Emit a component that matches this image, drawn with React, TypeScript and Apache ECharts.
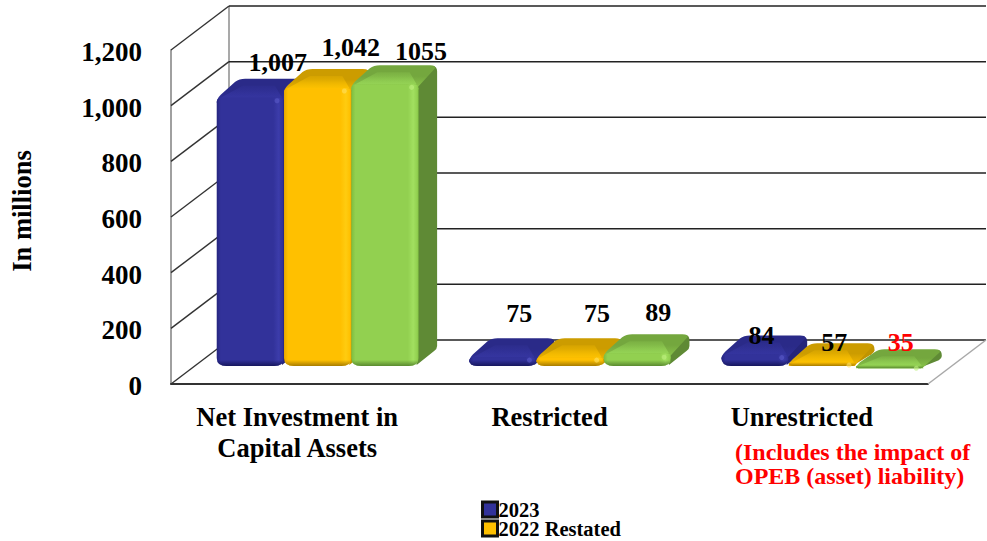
import React, { useEffect, useRef } from "react";
import * as echarts from "echarts";

const categories = ["Net Investment in\nCapital Assets", "Restricted", "Unrestricted"];
const seriesNames = ["2023", "2022 Restated", "2021"];
const values2023 = [1007, 75, 84];
const values2022 = [1042, 75, 57];
const values2021 = [1055, 89, 35];
const labels2023 = ["1,007", "75", "84"];
const labels2022 = ["1,042", "75", "57"];
const labels2021 = ["1055", "89", "35"];
const yTicks = [0, 200, 400, 600, 800, 1000, 1200];
const note = "(Includes the impact of\nOPEB (asset) liability)";
const yTitle = "In millions";

const FONT = '"Liberation Serif", "Times New Roman", serif';
const WALL_DX = 58;
const WALL_DY = 44;
const BAR_DX = 18.5;
const BAR_DY = 19;
const FLOOR_Y = 366;
const TOP_LIFT = 6;
const GROUP_SHIFT = 20.5;

const palette = [
  { base: "#32329A", edge: "#24247E", light: "#3C3CAA", top: "#2A2A88", topFront: "#32329A", facet: "#3636A2", side: "#25257A", bottom: "#17175E", spot: "#5A5AC8" },
  { base: "#FFC000", edge: "#E8A800", light: "#FFCC10", top: "#CC9C00", topFront: "#F8BA00", facet: "#FFC400", side: "#C09400", bottom: "#A87C00", spot: "#FFE060" },
  { base: "#92D050", edge: "#7CBC40", light: "#A2E060", top: "#74A73E", topFront: "#8CC84C", facet: "#98D858", side: "#5F8A35", bottom: "#5A8A30", spot: "#C0F080" },
];
const labelNudges = [
  [[27.5, -41.7], [16.5, -50], [6.5, -25.6]],
  [[33, -46], [27, -50], [12, -26]],
  [[36, -38.4], [21, -47], [11, -32]],
];

const hGrad = (stops: [number, string][]) => ({
  type: "linear", x: 0, y: 0, x2: 1, y2: 0,
  colorStops: stops.map(([offset, color]) => ({ offset, color })),
});
const vGrad = (stops: [number, string][]) => ({
  type: "linear", x: 0, y: 0, x2: 0, y2: 1,
  colorStops: stops.map(([offset, color]) => ({ offset, color })),
});

function barRenderer(seriesIndex: number) {
  return (params: any, api: any) => {
    const cat = api.value(0);
    const val = api.value(1);
    const pt = api.coord([cat, val]);
    const band = api.size([1, 0])[0];
    const w = band * 0.2667;
    const x0 = pt[0] + GROUP_SHIFT - w * 1.5 + w * seriesIndex;
    const x1 = x0 + w;
    const raw = pt[1] - TOP_LIFT;
    const fb = Math.max(FLOOR_Y, raw);
    const ft = Math.min(raw, fb - 3);
    const back = raw - BAR_DY;
    const h = fb - ft;
    const r = Math.min(8, h * 0.7);
    const c = palette[seriesIndex];

    const sideD = [
      `M${x1 - 3} ${ft + 3}`,
      `L${x1 + BAR_DX - 6} ${back + 1}`,
      `Q${x1 + BAR_DX} ${back} ${x1 + BAR_DX} ${back + 6}`,
      `L${x1 + BAR_DX} ${Math.max(back + 7, fb - 20)}`,
      `Q${x1 + BAR_DX} ${Math.max(back + 9, fb - 17)} ${x1 + BAR_DX - 3} ${Math.max(back + 11, fb - 15)}`,
      `L${x1 - 2} ${fb - 1}`,
      `Z`,
    ].join(" ");
    const topD = [
      `M${x0} ${ft + Math.min(5, h)}`,
      `Q${x0} ${ft + 1} ${x0 + 4} ${ft - 3}`,
      `L${x0 + BAR_DX} ${back + 3}`,
      `Q${x0 + BAR_DX + 4} ${back} ${x0 + BAR_DX + 10} ${back}`,
      `L${x1 + BAR_DX - 7} ${back}`,
      `Q${x1 + BAR_DX - 1} ${back} ${x1 + BAR_DX - 2} ${back + 3}`,
      `L${x1 - 1} ${ft + 3}`,
      `Q${x1} ${ft + 4} ${x1} ${ft + Math.min(5, h)}`,
      `Z`,
    ].join(" ");
    const facetD = [
      `M${x0 + 4} ${ft}`,
      `L${x0 + 26} ${back + 7}`,
      `L${x1 - 9} ${back + 7}`,
      `L${x1 - 2} ${ft}`,
      `Z`,
    ].join(" ");
    const frontD = [
      `M${x0} ${ft + Math.min(4, h / 2)}`,
      `Q${x0} ${ft} ${x0 + 5} ${ft}`,
      `L${x1 - 5} ${ft}`,
      `Q${x1} ${ft} ${x1} ${ft + Math.min(4, h / 2)}`,
      `L${x1} ${fb - r}`,
      `Q${x1} ${fb} ${x1 - r - 2} ${fb}`,
      `L${x0 + r + 2} ${fb}`,
      `Q${x0} ${fb} ${x0} ${fb - r}`,
      `Z`,
    ].join(" ");
    const shadeStart = Math.max(0, 1 - 6 / h);
    return {
      type: "group",
      children: [
        { type: "path", shape: { pathData: sideD }, style: { fill: c.side } },
        { type: "path", shape: { pathData: topD }, style: { fill: vGrad([[0, c.top], [0.45, c.top], [1, c.topFront]]) } },
        { type: "path", shape: { pathData: facetD }, style: { fill: vGrad([[0, c.facet + "30"], [1, c.facet + "D0"]]) } },
        {
          type: "path",
          shape: { pathData: frontD },
          style: { fill: hGrad([[0, c.edge], [0.06, c.base], [0.84, c.base], [0.92, c.light], [0.98, c.base], [1, c.edge]]) },
        },
        {
          type: "path",
          shape: { pathData: frontD },
          style: { fill: vGrad([[0, c.bottom + "00"], [shadeStart, c.bottom + "00"], [1, c.bottom]]) },
        },
        { type: "circle", shape: { cx: x1 - 7, cy: ft + 3, r: 2.5 }, style: { fill: c.spot, opacity: 0.6 } },
      ],
    };
  };
}

function wallRenderer(params: any, api: any) {
  const tick = api.value(0);
  const p = api.coord([0, tick]);
  const left = p[0] - api.size([1, 0])[0] / 2;
  const y = p[1];
  const rightEdge = params.coordSys.x + params.coordSys.width;
  const children: any[] = [
    { type: "line", shape: { x1: left, y1: y, x2: left + WALL_DX, y2: y - WALL_DY }, style: { stroke: "#333333", lineWidth: 1.4 } },
    { type: "line", shape: { x1: left + WALL_DX, y1: y - WALL_DY, x2: rightEdge + WALL_DX, y2: y - WALL_DY }, style: { stroke: "#222222", lineWidth: 1.5 } },
  ];
  if (tick === 0) {
    const top = api.coord([0, yTicks[yTicks.length - 1]])[1];
    children.push(
      { type: "line", shape: { x1: left + WALL_DX, y1: top - WALL_DY, x2: left + WALL_DX, y2: y - WALL_DY }, style: { stroke: "#8C8C8C", lineWidth: 1.5 } },
      { type: "line", shape: { x1: rightEdge, y1: y, x2: rightEdge + WALL_DX, y2: y - WALL_DY }, style: { stroke: "#A8A8A8", lineWidth: 1.5 } }
    );
  }
  return { type: "group", children };
}

function labelRenderer(params: any, api: any) {
  const cat = api.value(0);
  const val = api.value(1);
  const s = api.value(2);
  const pt = api.coord([cat, val]);
  const band = api.size([1, 0])[0];
  const w = band * 0.2667;
  const cx = pt[0] + GROUP_SHIFT - w * 1.5 + w * s + w / 2;
  const [dx, dy] = labelNudges[s][cat];
  const isRed = s === 2 && cat === 2;
  return {
    type: "text",
    style: {
      text: [labels2023, labels2022, labels2021][s][cat],
      x: cx + dx,
      y: pt[1] + dy,
      align: "center",
      verticalAlign: "middle",
      font: `bold 26px ${FONT}`,
      fill: isRed ? "#FF0000" : "#000000",
    },
  };
}

export default function App() {
  const ref = useRef<HTMLDivElement>(null);
  useEffect(() => {
    const chart = echarts.init(ref.current!, null, { renderer: "svg" });
    const allValues = [values2023, values2022, values2021];
    chart.setOption({
      animation: false,
      backgroundColor: "#FFFFFF",
      grid: { left: 171, right: 59, top: 50, bottom: 157, outerBoundsMode: "none" },
      legend: {
        data: seriesNames.slice(0, 2),
        orient: "vertical",
        left: 481,
        top: 499,
        height: 100,
        icon: "rect",
        itemWidth: 15,
        itemHeight: 15,
        itemGap: -2,
        selectedMode: false,
        padding: 0,
        itemStyle: { borderColor: "#111111", borderWidth: 3 },
        textStyle: { fontFamily: FONT, fontWeight: "bold", fontSize: 20.5, lineHeight: 15, color: "#000000", padding: [0, 0, 0, -4] },
      },
      xAxis: {
        type: "category",
        data: categories,
        axisLine: { lineStyle: { color: "#333333", width: 2 } },
        axisTick: { show: false },
        axisLabel: {
          fontFamily: FONT,
          fontWeight: "bold",
          fontSize: 26.5,
          color: "#000000",
          margin: 17,
          lineHeight: 31,
          interval: 0,
        },
      },
      yAxis: {
        type: "value",
        min: 0,
        max: 1200,
        interval: 200,
        name: yTitle,
        nameLocation: "middle",
        nameGap: 136,
        nameRotate: 90,
        nameTextStyle: { fontFamily: FONT, fontWeight: "bold", fontSize: 26.5, color: "#000000", padding: [0, 0, 0, 12] },
        splitLine: { show: false },
        axisTick: { show: false },
        axisLine: { show: true, lineStyle: { color: "#808080", width: 1.5 } },
        axisLabel: {
          fontFamily: FONT,
          fontWeight: "bold",
          fontSize: 27,
          color: "#000000",
          margin: 29,
          verticalAlign: "top",
          lineHeight: 4,
          formatter: (v: number) => v.toLocaleString("en-US"),
        },
      },
      graphic: [
        {
          type: "text",
          left: 735,
          top: 440,
          style: { text: note, font: `bold 24px ${FONT}`, fill: "#FF0000", lineHeight: 24 },
        },
      ],
      series: [
        { type: "custom", name: "walls", z: 1, data: yTicks.map((t) => [t]), renderItem: wallRenderer, encode: { x: -1, y: 0 }, silent: true },
        ...seriesNames.map((name, s) => ({
          type: "custom",
          name,
          z: 2 + s,
          itemStyle: { color: palette[s].base },
          data: allValues[s].map((v, i) => [i, v]),
          encode: { x: 0, y: 1 },
          renderItem: barRenderer(s),
        })),
        {
          type: "custom",
          name: "labels",
          z: 10,
          data: seriesNames.flatMap((_, s) => allValues[s].map((v, i) => [i, v, s])),
          encode: { x: 0, y: 1 },
          renderItem: labelRenderer,
        },
      ],
    });
    return () => chart.dispose();
  }, []);
  return <div ref={ref} style={{ position: "fixed", left: 0, top: 0, width: 987, height: 541 }} />;
}
